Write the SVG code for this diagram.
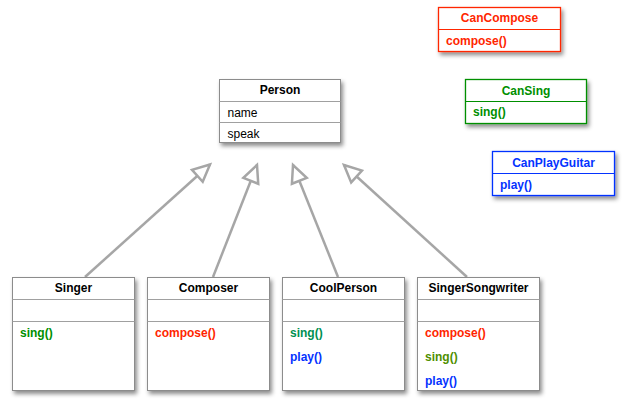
<svg xmlns="http://www.w3.org/2000/svg" width="626" height="406" viewBox="0 0 626 406">
<defs>
<filter id="sh" x="-10%" y="-10%" width="130%" height="140%">
<feDropShadow dx="2" dy="3" stdDeviation="2" flood-color="#000" flood-opacity="0.45"/>
</filter>
<marker id="tri" viewBox="-22 -11 26 22" refX="0" refY="0" markerWidth="26" markerHeight="22" markerUnits="userSpaceOnUse" orient="auto">
<path d="M0,0 L-17,-8 L-17,8 Z" fill="#fff" stroke="#a6a6a6" stroke-width="2.5"/>
</marker>
</defs>
<style>
.box{fill:#fff;stroke:#8c8c8c;stroke-width:1;filter:url(#sh)}
.sep{stroke:#a0a0a0;stroke-width:1}
.h{font-family:"Liberation Sans",Arial,sans-serif;font-size:12px;font-weight:bold;text-anchor:middle;fill:#000}
.m{font-family:"Liberation Sans",Arial,sans-serif;font-size:12px;fill:#000}
.b{font-family:"Liberation Sans",Arial,sans-serif;font-size:12px;font-weight:bold}
.red{fill:#ff2600}
.grn{fill:#008f00}
.moss{fill:#009051}
.fern{fill:#4f8f00}
.blu{fill:#0433ff}
.conn{stroke:#a6a6a6;stroke-width:2.5;fill:none;marker-end:url(#tri)}
</style>
<g id="connectors">
<line class="conn" x1="85" y1="277" x2="210" y2="164.5"/>
<line class="conn" x1="213" y1="277" x2="257" y2="165"/>
<line class="conn" x1="338" y1="277" x2="293" y2="165"/>
<line class="conn" x1="467" y1="277" x2="344" y2="165"/>
</g>
<g id="CanCompose">
<rect x="438.5" y="7.5" width="122" height="44" fill="#fff" stroke="#ff2600" stroke-width="1.3" filter="url(#sh)"/>
<line x1="438.5" y1="29.5" x2="560.5" y2="29.5" stroke="#ff2600" stroke-width="1"/>
<text class="h red" x="499.5" y="22">CanCompose</text>
<text class="b red" x="446" y="44.5">compose()</text>
</g>
<g id="CanSing">
<rect x="465.5" y="79.5" width="121" height="44" fill="#fff" stroke="#008f00" stroke-width="1.3" filter="url(#sh)"/>
<line x1="465.5" y1="101.5" x2="586.5" y2="101.5" stroke="#008f00" stroke-width="1"/>
<text class="h grn" x="526" y="94.5">CanSing</text>
<text class="b grn" x="473" y="116">sing()</text>
</g>
<g id="CanPlayGuitar">
<rect x="492.5" y="151.5" width="122" height="44" fill="#fff" stroke="#0433ff" stroke-width="1.3" filter="url(#sh)"/>
<line x1="492.5" y1="173.5" x2="614.5" y2="173.5" stroke="#0433ff" stroke-width="1"/>
<text class="h blu" x="553.5" y="167">CanPlayGuitar</text>
<text class="b blu" x="500" y="188.5">play()</text>
</g>
<g id="Person">
<rect class="box" x="219.5" y="79.5" width="121" height="63"/>
<line class="sep" x1="219.5" y1="101.5" x2="340.5" y2="101.5"/>
<line class="sep" x1="219.5" y1="122.5" x2="340.5" y2="122.5"/>
<text class="h" x="280" y="94">Person</text>
<text class="m" x="227.5" y="116.5">name</text>
<text class="m" x="227.5" y="137.5">speak</text>
</g>
<g id="Singer">
<rect class="box" x="12.5" y="277.5" width="122" height="113"/>
<line class="sep" x1="12.5" y1="299.5" x2="134.5" y2="299.5"/>
<line class="sep" x1="12.5" y1="321.5" x2="134.5" y2="321.5"/>
<text class="h" x="73.5" y="292">Singer</text>
<text class="b grn" x="20" y="337">sing()</text>
</g>
<g id="Composer">
<rect class="box" x="147.5" y="277.5" width="122" height="113"/>
<line class="sep" x1="147.5" y1="299.5" x2="269.5" y2="299.5"/>
<line class="sep" x1="147.5" y1="321.5" x2="269.5" y2="321.5"/>
<text class="h" x="208.5" y="292">Composer</text>
<text class="b red" x="155" y="337">compose()</text>
</g>
<g id="CoolPerson">
<rect class="box" x="282.5" y="277.5" width="122" height="113"/>
<line class="sep" x1="282.5" y1="299.5" x2="404.5" y2="299.5"/>
<line class="sep" x1="282.5" y1="321.5" x2="404.5" y2="321.5"/>
<text class="h" x="343.5" y="292">CoolPerson</text>
<text class="b moss" x="290" y="337">sing()</text>
<text class="b blu" x="290" y="361">play()</text>
</g>
<g id="SingerSongwriter">
<rect class="box" x="417.5" y="277.5" width="122" height="113"/>
<line class="sep" x1="417.5" y1="299.5" x2="539.5" y2="299.5"/>
<line class="sep" x1="417.5" y1="321.5" x2="539.5" y2="321.5"/>
<text class="h" x="478.5" y="292">SingerSongwriter</text>
<text class="b red" x="425" y="337">compose()</text>
<text class="b fern" x="425" y="361">sing()</text>
<text class="b blu" x="425" y="385">play()</text>
</g>
</svg>
